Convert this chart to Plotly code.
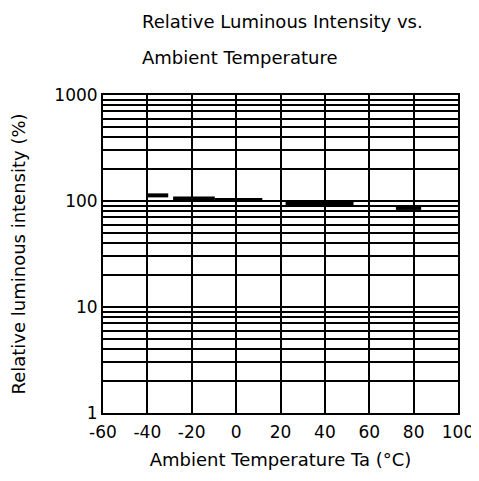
import plotly.graph_objects as go

# Data: horizontal step segments
seg_start = [-40.4, -28.4, -9.6, 22.3, 72.0]
seg_end = [-30.6, -9.6, 11.8, 52.9, 83.4]
seg_value = [113, 105.5, 102, 94.7, 86]

x_ticks = [-60, -40, -20, 0, 20, 40, 60, 80, 100]
x_ticktext = ["-60", "-40", "-20", "0", "20", "40", "60", "80", "100"]
y_decades = [1, 10, 100, 1000]
y_decade_labels = ["1", "10", "100", "1000"]
y_minor = [m * d for d in [1, 10, 100] for m in range(2, 10)]

xs, ys = [], []
for a, b, v in zip(seg_start, seg_end, seg_value):
    xs += [a, b, None]
    ys += [v, v, None]

FONT = "DejaVu Sans"
FS = 18

fig = go.Figure()
fig.add_trace(go.Scatter(x=xs, y=ys, mode="lines",
                         line=dict(color="black", width=4),
                         showlegend=False, hoverinfo="skip"))

grid_vals = sorted(y_decades + y_minor)
grid_text = [y_decade_labels[y_decades.index(v)] if v in y_decades else "" for v in grid_vals]

fig.update_layout(
    width=471, height=473,
    margin=dict(l=95, r=21, t=87, b=68, autoexpand=False),
    paper_bgcolor="white", plot_bgcolor="white",
    font=dict(family=FONT, size=FS, color="black"),
    xaxis=dict(range=[-60, 100], tickvals=x_ticks, ticktext=x_ticktext,
               showgrid=True, gridcolor="black", gridwidth=2,
               showline=True, linecolor="black", linewidth=2, mirror=True,
               zeroline=False, ticks="", ticklabelstandoff=3,
               tickfont=dict(family=FONT, size=FS - 1),
               title=dict(text="Ambient Temperature Ta (°C)", standoff=12,
                          font=dict(family=FONT, size=FS))),
    yaxis=dict(type="log", range=[0, 3], tickvals=grid_vals, ticktext=grid_text,
               showgrid=True, gridcolor="black", gridwidth=2,
               showline=True, linecolor="black", linewidth=2, mirror=True,
               zeroline=False, ticks="", ticklabelstandoff=0,
               tickfont=dict(family=FONT, size=FS - 1),
               title=dict(text="Relative luminous intensity (%)", standoff=24,
                          font=dict(family=FONT, size=FS))),
    annotations=[
        dict(text="Relative Luminous Intensity vs.", xref="paper", yref="paper",
             x=(140 - 103) / 355, y=(413 - 22) / 318, xanchor="left", yanchor="middle",
             showarrow=False, font=dict(family=FONT, size=FS)),
        dict(text="Ambient Temperature", xref="paper", yref="paper",
             x=(140 - 103) / 355, y=(413 - 57) / 318, xanchor="left", yanchor="middle",
             showarrow=False, font=dict(family=FONT, size=FS)),
    ],
)

fig.write_html("out.html")
